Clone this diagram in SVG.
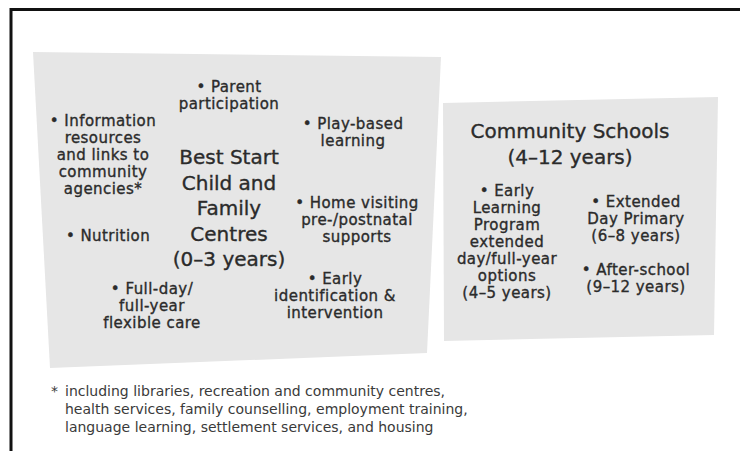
<svg xmlns="http://www.w3.org/2000/svg" width="740" height="451" viewBox="0 0 740 451">
<style>
.panel{fill:#e6e6e6;stroke:none}
.frame{fill:none;stroke:#111;stroke-width:3}
text{font-family:"DejaVu Sans","Liberation Sans",sans-serif;fill:#2b2b2b}
.b{font-size:15px;text-anchor:middle;letter-spacing:0.45px;stroke:#2b2b2b;stroke-width:0.35px}
.t{font-size:20px;text-anchor:middle;stroke:#2b2b2b;stroke-width:0.35px}
.f{font-size:14px;fill:#3a3a3a}
</style>
<rect width="740" height="451" fill="#fff"/>
<path class="frame" d="M11,451 V9.5 H740"/>
<g id="best-start">
<polygon class="panel" points="33,52 441,57 427,353 50,368"/>
<text class="t"><tspan x="229" y="164">Best Start</tspan><tspan x="229" y="189.5">Child and</tspan><tspan x="229" y="215">Family</tspan><tspan x="229" y="240.5">Centres</tspan><tspan x="229" y="266">(0–3 years)</tspan></text>
</g>
<g id="parent-participation"><text class="b"><tspan x="229" y="92">• Parent</tspan><tspan x="229" y="109">participation</tspan></text></g>
<g id="information"><text class="b"><tspan x="103" y="126">• Information</tspan><tspan x="103" y="143">resources</tspan><tspan x="103" y="160">and links to</tspan><tspan x="103" y="177">community</tspan><tspan x="103" y="194">agencies*</tspan></text></g>
<g id="play-based"><text class="b"><tspan x="353" y="129">• Play-based</tspan><tspan x="353" y="146">learning</tspan></text></g>
<g id="home-visiting"><text class="b"><tspan x="357" y="208">• Home visiting</tspan><tspan x="357" y="225">pre-/postnatal</tspan><tspan x="357" y="242">supports</tspan></text></g>
<g id="nutrition"><text class="b"><tspan x="108" y="241">• Nutrition</tspan></text></g>
<g id="full-day"><text class="b"><tspan x="152" y="294">• Full-day/</tspan><tspan x="152" y="311">full-year</tspan><tspan x="152" y="328">flexible care</tspan></text></g>
<g id="early-identification"><text class="b"><tspan x="335" y="284">• Early</tspan><tspan x="335" y="301">identification &amp;</tspan><tspan x="335" y="318">intervention</tspan></text></g>
<g id="community-schools">
<polygon class="panel" points="443,103 718,97 714,335 444,341"/>
<text class="t"><tspan x="570" y="138">Community Schools</tspan><tspan x="570" y="164">(4–12 years)</tspan></text>
</g>
<g id="early-learning"><text class="b"><tspan x="507" y="196">• Early</tspan><tspan x="507" y="213">Learning</tspan><tspan x="507" y="230">Program</tspan><tspan x="507" y="247">extended</tspan><tspan x="507" y="264">day/full-year</tspan><tspan x="507" y="281">options</tspan><tspan x="507" y="298">(4–5 years)</tspan></text></g>
<g id="extended-day"><text class="b"><tspan x="636" y="207">• Extended</tspan><tspan x="636" y="224">Day Primary</tspan><tspan x="636" y="241">(6–8 years)</tspan></text></g>
<g id="after-school"><text class="b"><tspan x="636" y="275">• After-school</tspan><tspan x="636" y="292">(9–12 years)</tspan></text></g>
<g id="footnote"><text class="f"><tspan x="51" y="396">*</tspan><tspan x="65" y="396">including libraries, recreation and community centres,</tspan><tspan x="65" y="414">health services, family counselling, employment training,</tspan><tspan x="65" y="432">language learning, settlement services, and housing</tspan></text></g>
</svg>
